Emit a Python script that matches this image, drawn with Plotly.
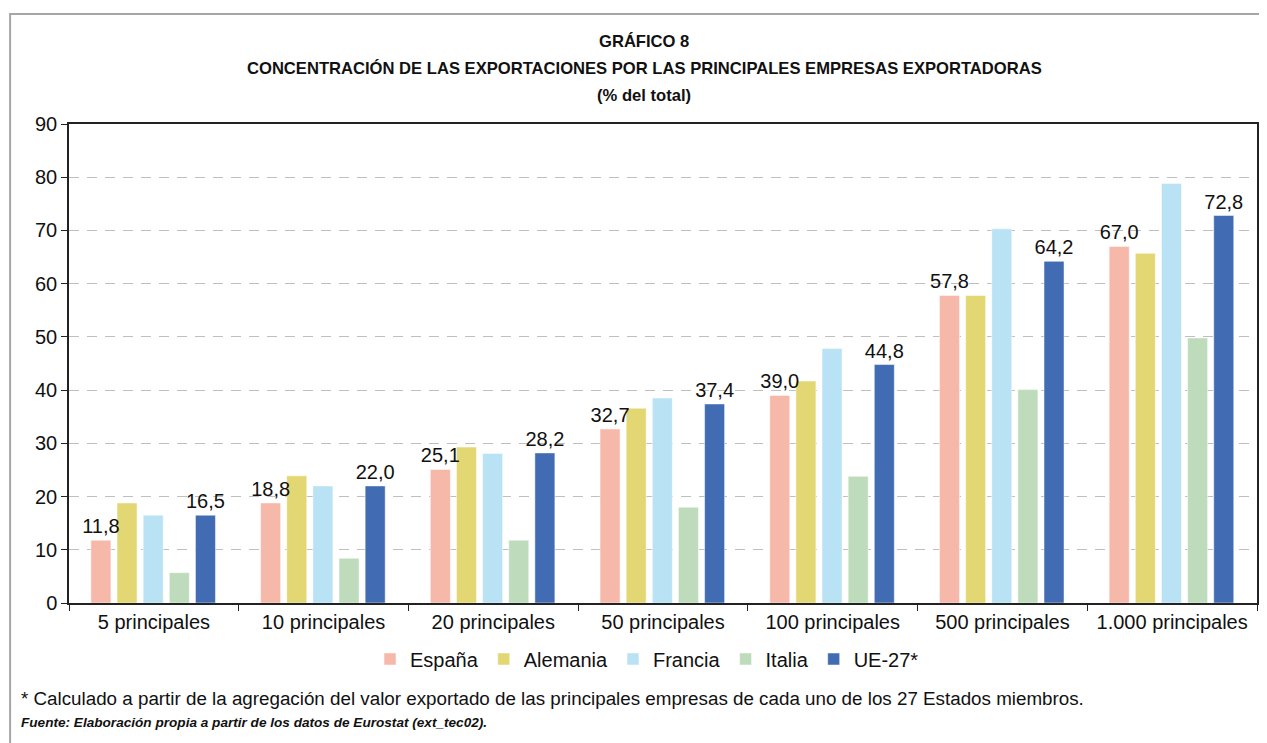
import plotly.graph_objects as go

categories = ["5 principales", "10 principales", "20 principales", "50 principales",
              "100 principales", "500 principales", "1.000 principales"]
espana = [11.8, 18.8, 25.1, 32.7, 39.0, 57.8, 67.0]
alemania = [18.8, 23.9, 29.3, 36.6, 41.7, 57.8, 65.7]
francia = [16.5, 22.0, 28.1, 38.5, 47.8, 70.3, 78.8]
italia = [5.7, 8.4, 11.8, 18.0, 23.8, 40.1, 49.8]
ue27 = [16.5, 22.0, 28.2, 37.4, 44.8, 64.2, 72.8]

series_names = ["España", "Alemania", "Francia", "Italia", "UE-27*"]
series_values = [espana, alemania, francia, italia, ue27]
series_colors = ["#F6B8A9", "#E3D773", "#B9E2F5", "#BEDCBB", "#416BB2"]
labelled = [True, False, False, False, True]

FONT = "Liberation Sans, Arial, Helvetica, sans-serif"

# bar geometry within a category (category units): width and offset of each series
BAR_W = 0.118
BAR_STEP = 0.154
FIRST_OFF = -0.371

fig = go.Figure()
# draw labelled series last so their value labels sit on top of neighbouring bars
draw_order = [1, 2, 3, 0, 4]
for i in draw_order:
    name, vals, col, lab = series_names[i], series_values[i], series_colors[i], labelled[i]
    fig.add_trace(go.Bar(
        name=name, x=categories, y=vals,
        width=BAR_W, offset=FIRST_OFF + i * BAR_STEP,
        legendrank=i + 1,
        marker=dict(color=col, line=dict(color="white", width=0.5)),
        text=vals if lab else None,
        texttemplate="%{y:.1f}" if lab else None,
        textposition="outside" if lab else "none",
        textfont=dict(size=20, color="#111111", family=FONT),
        constraintext="none", cliponaxis=False,
        hoverinfo="x+y+name",
    ))

# page body has an 8px margin: work in reference pixel coords, shifted by OFF
OFF = 8
W, H = 1267 - OFF, 743 - OFF
PL, PR, PT, PB = 69, 1259, 124, 603   # plot area in reference pixels
L, T = PL - OFF, PT - OFF
R = W - (PR - OFF)
B = H - (PB - OFF)
pw, ph = PR - PL, PB - PT

def px(x):
    return (x - PL) / pw

def py(y):
    return (PB - y) / ph

fig.update_layout(
    width=W, height=H,
    margin=dict(l=L, r=R, t=T, b=B, pad=0),
    paper_bgcolor="white", plot_bgcolor="white",
    separators=",.",
    barmode="overlay",
    font=dict(family=FONT, size=20, color="#111111"),
    showlegend=True,
    legend=dict(orientation="h", x=px(648), xanchor="center", y=py(659), yanchor="middle",
                font=dict(size=20, family=FONT), itemwidth=30, tracegroupgap=0,
                bgcolor="rgba(0,0,0,0)"),
    xaxis=dict(showline=True, linecolor="#222222", linewidth=1.5, mirror=True,
               ticks="outside", ticklen=6, tickcolor="#222222", tickson="boundaries",
               tickfont=dict(size=20, family=FONT), showgrid=False,
               range=[-0.5, len(categories) - 0.5]),
    yaxis=dict(range=[0, 90], dtick=10, showline=True, linecolor="#222222", linewidth=1.5,
               mirror=True, ticks="outside", ticklen=6, tickcolor="#222222",
               showgrid=True, gridcolor="#BFBFBF", griddash="10px,8px", gridwidth=1.2,
               zeroline=False, tickfont=dict(size=20, family=FONT)),
)

# outer frame
fig.add_shape(type="rect", xref="paper", yref="paper",
              x0=px(10), x1=px(1275), y0=py(760), y1=py(14),
              line=dict(color="#A6A6A6", width=2), fillcolor="rgba(0,0,0,0)", layer="below")

titles = ["GRÁFICO 8",
          "CONCENTRACIÓN DE LAS EXPORTACIONES POR LAS PRINCIPALES EMPRESAS EXPORTADORAS",
          "(% del total)"]
for t, yy in zip(titles, [41, 68, 95]):
    fig.add_annotation(text="<b>" + t + "</b>", xref="paper", yref="paper",
                       x=px(645), y=py(yy), xanchor="center", yanchor="middle",
                       showarrow=False, font=dict(size=16.6, family=FONT, color="#111111"))

fig.add_annotation(text="* Calculado a partir de la agregación del valor exportado de las principales empresas de cada uno de los 27 Estados miembros.",
                   xref="paper", yref="paper", x=px(19), y=py(698), xanchor="left", yanchor="middle",
                   showarrow=False, font=dict(size=18.8, family=FONT, color="#111111"))
fig.add_annotation(text="<b><i>Fuente: Elaboración propia a partir de los datos de Eurostat (ext_tec02).</i></b>",
                   xref="paper", yref="paper", x=px(19), y=py(722), xanchor="left", yanchor="middle",
                   showarrow=False, font=dict(size=13.6, family=FONT, color="#111111"))

fig.write_html("out.html")
